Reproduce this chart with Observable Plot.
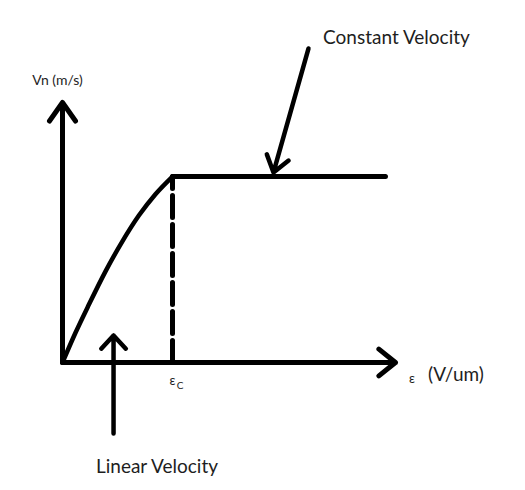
<!DOCTYPE html>
<html>
<head>
<meta charset="utf-8">
<script src="https://cdn.jsdelivr.net/npm/d3@7"></script>
<script src="https://cdn.jsdelivr.net/npm/@observablehq/plot@0.6"></script>
<style>
  html, body { margin: 0; padding: 0; background: #fff; }
  #chart svg { display: block; }
</style>
</head>
<body>
<div id="chart"></div>
<script>
// Field (in units of the critical field εc) and velocity (in units of saturation velocity)
const curveField    = [0, 0.118, 0.239, 0.391, 0.543, 0.694, 0.845, 1];
const curveVelocity = [0, 0.16, 0.31, 0.49, 0.65, 0.79, 0.905, 1];
const plateauField    = [1, 2.936];
const plateauVelocity = [1, 1];
const criticalField = 1;

// Axes and pointer arrows (from -> to, in data units)
const arrowNames = ["vAxis", "eAxis", "constant", "linear"];
const arrowX1 = [0, 0, 2.236, 0.464];
const arrowY1 = [0, 0, 1.688, -0.382];
const arrowX2 = [0, 3.027, 1.918, 0.464];
const arrowY2 = [1.398, 0, 1.022, 0.145];

// Text annotations (anchor in data units)
const labelTexts = ["Constant Velocity", "Linear Velocity", "Vn (m/s)", "ε", "C", "ε", "(V/um)"];
const labelX = [3.036, 0.859, -0.045, 1.0, 1.068, 3.177, 3.577];
const labelY = [1.744, -0.562, 1.517, -0.101, -0.123, -0.089, -0.068];

const curve = curveField.map((x, i) => ({x, y: curveVelocity[i]}));
const plateau = plateauField.map((x, i) => ({x, y: plateauVelocity[i]}));
const dashed = [{x: criticalField, y: 0}, {x: criticalField, y: 1}];
const arrows = arrowNames.map((name, i) => ({name, x1: arrowX1[i], y1: arrowY1[i], x2: arrowX2[i], y2: arrowY2[i]}));
const labels = labelTexts.map((text, i) => ({text, x: labelX[i], y: labelY[i]}));

const arrowStyle = {
  vAxis:    {strokeWidth: 5, headLength: 6.8, headAngle: 70},
  eAxis:    {strokeWidth: 5, headLength: 6.4, headAngle: 78},
  constant: {strokeWidth: 4.5, headLength: 6.4, headAngle: 72},
  linear:   {strokeWidth: 4.5, headLength: 6.0, headAngle: 86}
};
const labelStyle = [
  {fontSize: 19, textAnchor: "middle"},
  {fontSize: 19, textAnchor: "middle"},
  {fontSize: 14, textAnchor: "middle"},
  {fontSize: 13, textAnchor: "middle"},
  {fontSize: 10, textAnchor: "middle"},
  {fontSize: 13, textAnchor: "middle"},
  {fontSize: 19, textAnchor: "middle"}
];

const chart = Plot.plot({
  width: 525,
  height: 490,
  margin: 0,
  style: {background: "#fff", fontFamily: "Lato, 'Open Sans', sans-serif"},
  x: {domain: [0, 1], range: [62, 172], axis: null},
  y: {domain: [0, 1], range: [362, 176], axis: null},
  marks: [
    Plot.line(curve, {x: "x", y: "y", curve: "monotone-x", stroke: "#000", strokeWidth: 4.5, strokeLinecap: "round"}),
    Plot.line(plateau, {x: "x", y: "y", stroke: "#000", strokeWidth: 5, strokeLinecap: "round"}),
    Plot.line(dashed, {x: "x", y: "y", stroke: "#000", strokeWidth: 5, strokeDasharray: "22,7"}),
    ...arrows.map(a => Plot.arrow([a], {
      x1: "x1", y1: "y1", x2: "x2", y2: "y2",
      stroke: "#000",
      strokeLinecap: "round",
      strokeLinejoin: "round",
      ...arrowStyle[a.name]
    })),
    ...labels.map((l, i) => Plot.text([l], {
      x: "x", y: "y", text: "text", fill: "#1e1e1e",
      fontFamily: "Lato, 'Open Sans', sans-serif",
      ...labelStyle[i]
    }))
  ]
});
document.getElementById("chart").appendChild(chart);
</script>
</body>
</html>
